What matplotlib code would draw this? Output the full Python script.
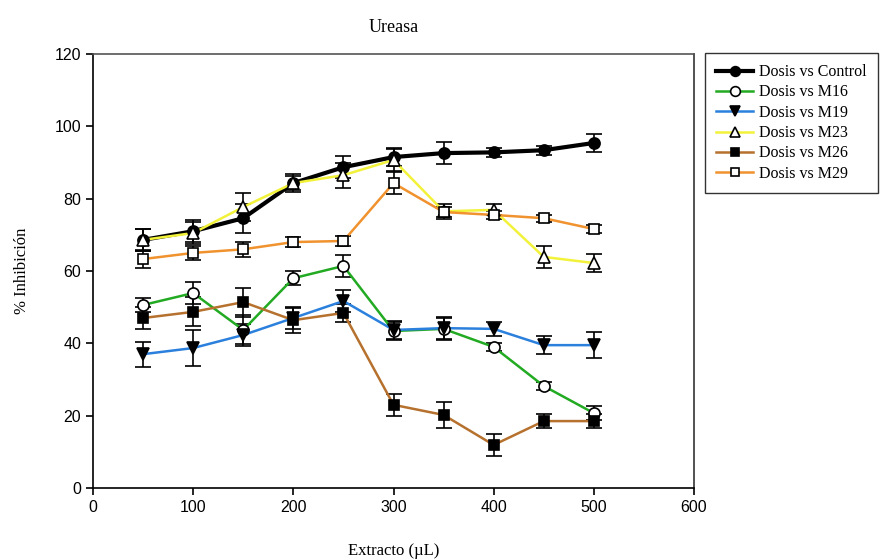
import matplotlib
matplotlib.use("Agg")
import matplotlib.pyplot as plt
from matplotlib.lines import Line2D

x = [50, 100, 150, 200, 250, 300, 350, 400, 450, 500]

control = [68.6, 71.0, 74.6, 84.3, 88.7, 91.5, 92.6, 92.8, 93.4, 95.4]
control_err = [3.0, 3.0, 4.0, 2.5, 3.0, 2.5, 3.0, 1.2, 1.2, 2.5]
m16 = [50.6, 53.9, 43.7, 58.0, 61.4, 43.4, 44.0, 39.0, 28.2, 20.7]
m16_err = [2.0, 3.0, 4.0, 2.0, 3.0, 2.5, 3.0, 1.0, 1.0, 2.0]
m19 = [37.0, 38.7, 42.3, 47.0, 51.7, 43.7, 44.2, 44.0, 39.5, 39.5]
m19_err = [3.5, 5.0, 3.0, 3.0, 3.0, 2.5, 3.0, 2.0, 2.5, 3.5]
m23 = [68.6, 70.5, 77.7, 84.3, 86.5, 90.7, 76.5, 76.9, 63.9, 62.2]
m23_err = [3.0, 3.0, 4.0, 2.0, 3.5, 3.0, 2.0, 1.5, 3.0, 2.5]
m26 = [47.0, 48.7, 51.4, 46.4, 48.4, 23.0, 20.2, 11.9, 18.5, 18.5]
m26_err = [3.0, 4.0, 4.0, 3.5, 2.5, 3.0, 3.5, 3.0, 2.0, 2.0]
m29 = [63.3, 65.0, 66.0, 68.0, 68.3, 84.3, 76.3, 75.5, 74.6, 71.6]
m29_err = [2.5, 2.0, 2.0, 1.5, 1.5, 3.0, 1.5, 1.0, 1.0, 1.0]

labels = ["Dosis vs Control", "Dosis vs M16", "Dosis vs M19",
          "Dosis vs M23", "Dosis vs M26", "Dosis vs M29"]

series = [
    (control, control_err, "black", "o", "black", 3.0, 8),
    (m16, m16_err, "#22aa22", "o", "white", 1.8, 8),
    (m19, m19_err, "#2a80dc", "v", "black", 1.8, 8),
    (m23, m23_err, "#f2f23a", "^", "white", 1.8, 8),
    (m26, m26_err, "#b5712d", "s", "black", 1.8, 7),
    (m29, m29_err, "#f0922e", "s", "white", 1.8, 7),
]

fig = plt.figure(figsize=(8.89, 5.6), dpi=100)
ax = fig.add_axes([93/889, 72/560, (694-93)/889, (488-54)/560])

order = [5, 3, 4, 1, 2, 0]
for i in order:
    y, e, c, m, fc, lw, ms = series[i]
    ax.errorbar(x, y, yerr=e, fmt="none", ecolor="black", elinewidth=1.2,
                capsize=6, capthick=1.2, zorder=2 + i * 0.1)
    ax.plot(x, y, color=c, lw=lw, zorder=3 + i * 0.1)
    ax.plot(x, y, ls="none", marker=m, ms=ms, mfc=fc, mec="black", mew=1.2,
            zorder=4 + i * 0.1)

ax.set_xlim(0, 600)
ax.set_ylim(0, 120)
ax.set_xticks(range(0, 601, 100))
ax.set_yticks(range(0, 121, 20))
ax.tick_params(direction="out", length=5, width=1.2, labelsize=11.5)
for t in ax.get_xticklabels() + ax.get_yticklabels():
    t.set_fontfamily("Liberation Sans")
for s in ax.spines.values():
    s.set_linewidth(1.2)
ax.spines["top"].set_color("#555555")
ax.spines["right"].set_color("#333333")

ax.set_xlabel("Extracto (\u00b5L)", fontfamily="Liberation Serif", fontsize=12, labelpad=20)
ax.set_ylabel("% Inhibición", fontfamily="Liberation Serif", fontsize=12, labelpad=18)
ax.set_title("Ureasa", fontfamily="Liberation Serif", fontsize=13, pad=16)

handles = []
for (y, e, c, m, fc, lw, ms), lab in zip(series, labels):
    handles.append(Line2D([0], [0], color=c, lw=lw, marker=m, ms=ms - 1, mfc=fc,
                          mec="black", mew=1.2))
leg = fig.legend(handles, labels, loc="upper left", bbox_to_anchor=(705/889, 1 - 53/560),
                 prop={"family": "Liberation Serif", "size": 11.5}, frameon=True,
                 fancybox=False, edgecolor="black", handlelength=2.3,
                 labelspacing=0.27, borderpad=0.7, handletextpad=0.4,
                 borderaxespad=0)
leg.get_frame().set_linewidth(1.0)

fig.savefig("out.png", dpi=100)
